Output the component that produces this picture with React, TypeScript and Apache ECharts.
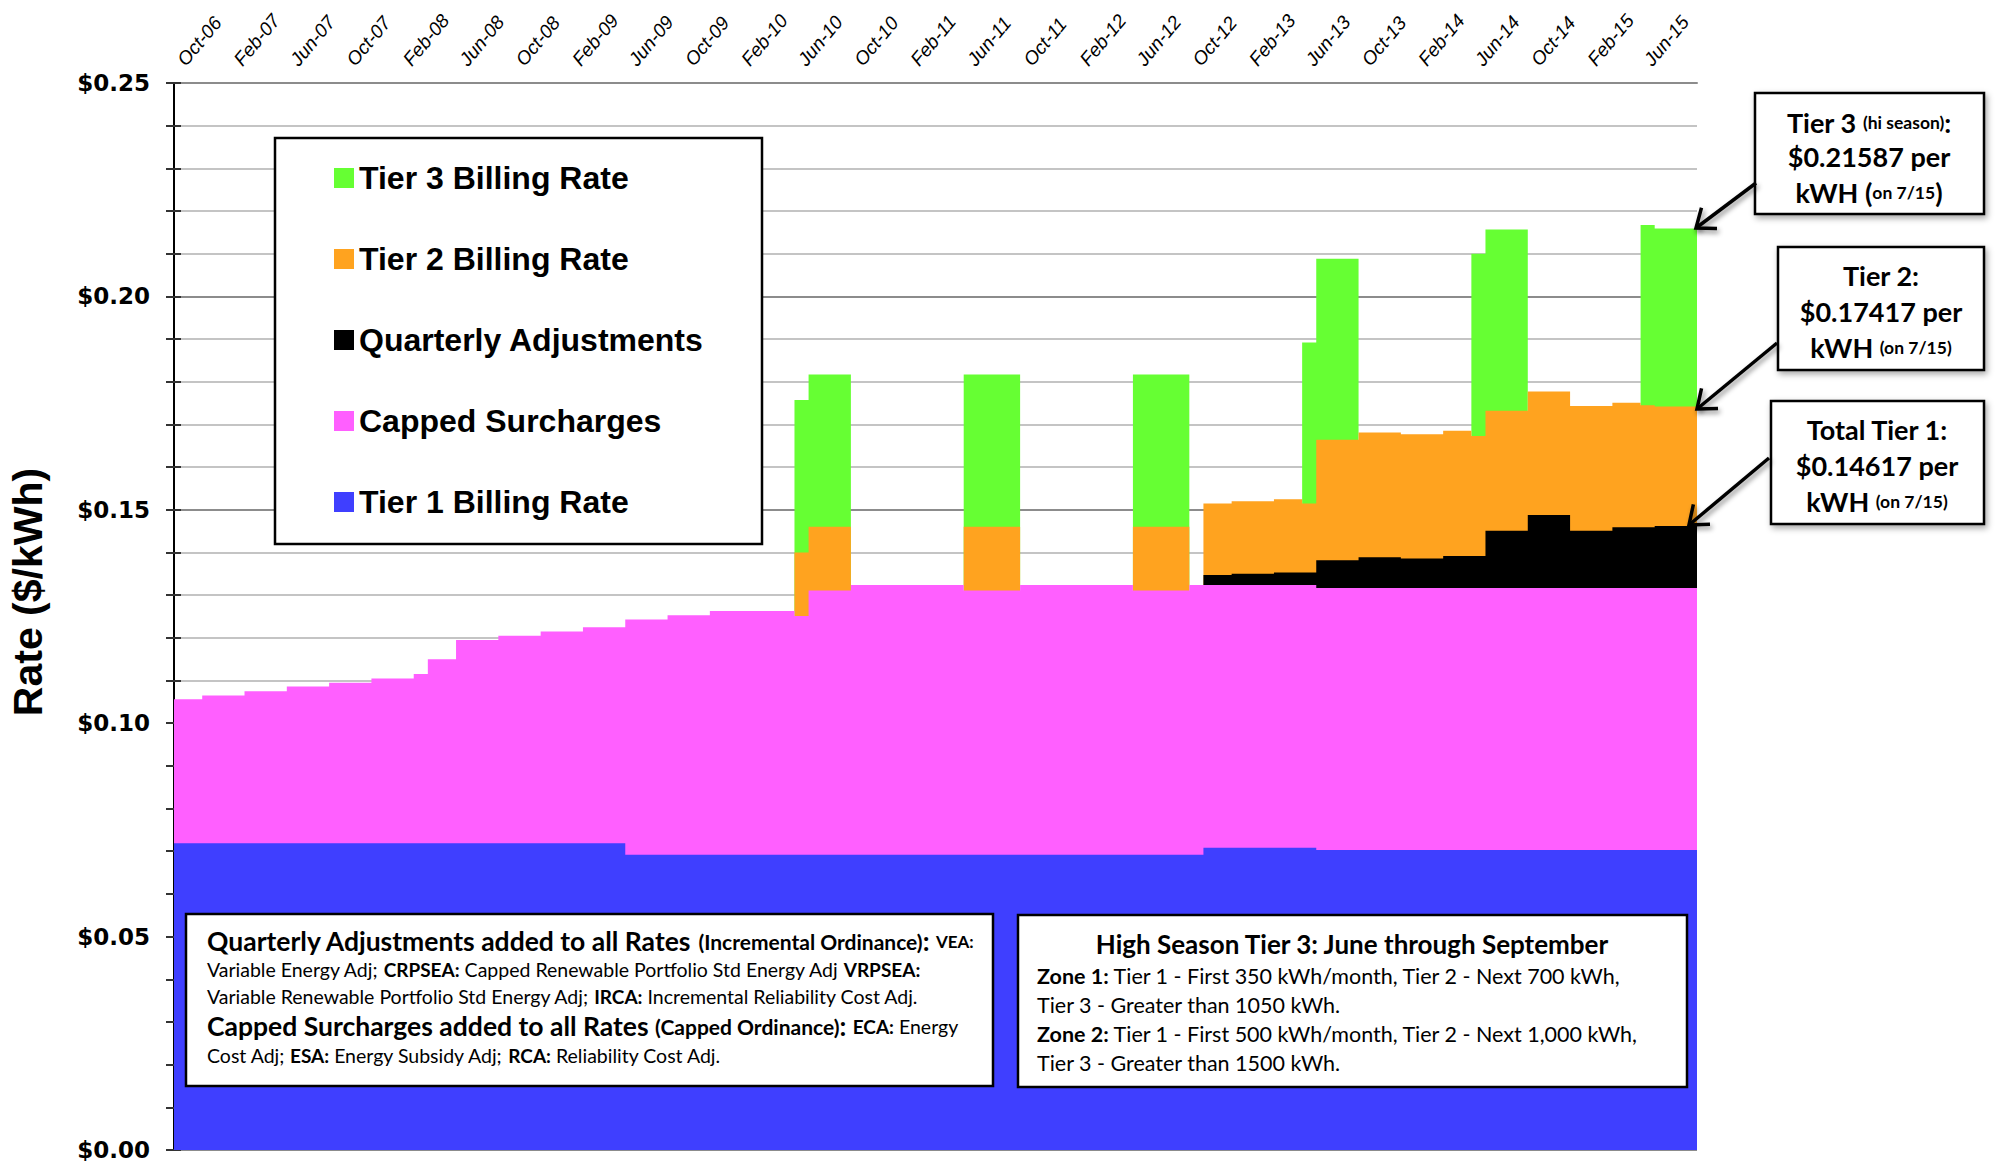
import React, { useEffect, useRef } from 'react';
import * as echarts from 'echarts';

const N = null;

const months: string[] = [
  'Oct-06', 'Nov-06', 'Dec-06',
  'Jan-07', 'Feb-07', 'Mar-07', 'Apr-07', 'May-07', 'Jun-07', 'Jul-07', 'Aug-07', 'Sep-07', 'Oct-07', 'Nov-07', 'Dec-07',
  'Jan-08', 'Feb-08', 'Mar-08', 'Apr-08', 'May-08', 'Jun-08', 'Jul-08', 'Aug-08', 'Sep-08', 'Oct-08', 'Nov-08', 'Dec-08',
  'Jan-09', 'Feb-09', 'Mar-09', 'Apr-09', 'May-09', 'Jun-09', 'Jul-09', 'Aug-09', 'Sep-09', 'Oct-09', 'Nov-09', 'Dec-09',
  'Jan-10', 'Feb-10', 'Mar-10', 'Apr-10', 'May-10', 'Jun-10', 'Jul-10', 'Aug-10', 'Sep-10', 'Oct-10', 'Nov-10', 'Dec-10',
  'Jan-11', 'Feb-11', 'Mar-11', 'Apr-11', 'May-11', 'Jun-11', 'Jul-11', 'Aug-11', 'Sep-11', 'Oct-11', 'Nov-11', 'Dec-11',
  'Jan-12', 'Feb-12', 'Mar-12', 'Apr-12', 'May-12', 'Jun-12', 'Jul-12', 'Aug-12', 'Sep-12', 'Oct-12', 'Nov-12', 'Dec-12',
  'Jan-13', 'Feb-13', 'Mar-13', 'Apr-13', 'May-13', 'Jun-13', 'Jul-13', 'Aug-13', 'Sep-13', 'Oct-13', 'Nov-13', 'Dec-13',
  'Jan-14', 'Feb-14', 'Mar-14', 'Apr-14', 'May-14', 'Jun-14', 'Jul-14', 'Aug-14', 'Sep-14', 'Oct-14', 'Nov-14', 'Dec-14',
  'Jan-15', 'Feb-15', 'Mar-15', 'Apr-15', 'May-15', 'Jun-15', 'Jul-15', 'Aug-15', 'Sep-15',
];

// Tier 1 base billing rate ($/kWh)
const tier1: number[] = [
  0.0719, 0.0719, 0.0719,
  0.0719, 0.0719, 0.0719, 0.0719, 0.0719, 0.0719, 0.0719, 0.0719, 0.0719, 0.0719, 0.0719, 0.0719,
  0.0719, 0.0719, 0.0719, 0.0719, 0.0719, 0.0719, 0.0719, 0.0719, 0.0719, 0.0719, 0.0719, 0.0719,
  0.0719, 0.0719, 0.0719, 0.0719, 0.0719, 0.0692, 0.0692, 0.0692, 0.0692, 0.0692, 0.0692, 0.0692,
  0.0692, 0.0692, 0.0692, 0.0692, 0.0692, 0.0692, 0.0692, 0.0692, 0.0692, 0.0692, 0.0692, 0.0692,
  0.0692, 0.0692, 0.0692, 0.0692, 0.0692, 0.0692, 0.0692, 0.0692, 0.0692, 0.0692, 0.0692, 0.0692,
  0.0692, 0.0692, 0.0692, 0.0692, 0.0692, 0.0692, 0.0692, 0.0692, 0.0692, 0.0692, 0.0708, 0.0708,
  0.0708, 0.0708, 0.0708, 0.0708, 0.0708, 0.0708, 0.0703, 0.0703, 0.0703, 0.0703, 0.0703, 0.0703,
  0.0703, 0.0703, 0.0703, 0.0703, 0.0703, 0.0703, 0.0703, 0.0703, 0.0703, 0.0703, 0.0703, 0.0703,
  0.0703, 0.0703, 0.0703, 0.0703, 0.0703, 0.0703, 0.0703, 0.0703, 0.0703,
];

// Capped surcharges (ECA, ESA, RCA)
const capped: number[] = [
  0.0337, 0.0337, 0.0346,
  0.0346, 0.0346, 0.0356, 0.0356, 0.0356, 0.0367, 0.0367, 0.0367, 0.0376, 0.0376, 0.0376, 0.0386,
  0.0386, 0.0386, 0.0396, 0.0431, 0.0431, 0.0476, 0.0476, 0.0476, 0.0486, 0.0486, 0.0486, 0.0496,
  0.0496, 0.0496, 0.0506, 0.0506, 0.0506, 0.0551, 0.0551, 0.0551, 0.0561, 0.0561, 0.0561, 0.0571,
  0.0571, 0.0571, 0.0571, 0.0571, 0.0571, 0.0559, 0.0619, 0.0619, 0.0619, 0.0632, 0.0632, 0.0632,
  0.0632, 0.0632, 0.0632, 0.0632, 0.0632, 0.0619, 0.0619, 0.0619, 0.0619, 0.0632, 0.0632, 0.0632,
  0.0632, 0.0632, 0.0632, 0.0632, 0.0632, 0.0619, 0.0619, 0.0619, 0.0619, 0.0632, 0.0616, 0.0616,
  0.0616, 0.0616, 0.0616, 0.0616, 0.0616, 0.0616, 0.0614, 0.0614, 0.0614, 0.0614, 0.0614, 0.0614,
  0.0614, 0.0614, 0.0614, 0.0614, 0.0614, 0.0614, 0.0614, 0.0614, 0.0614, 0.0614, 0.0614, 0.0614,
  0.0614, 0.0614, 0.0614, 0.0614, 0.0614, 0.0614, 0.0614, 0.0614, 0.0614,
];

// Quarterly adjustments (VEA, CRPSEA, VRPSEA, IRCA)
const quarterly: (number | null)[] = [
  N, N, N,
  N, N, N, N, N, N, N, N, N, N, N, N,
  N, N, N, N, N, N, N, N, N, N, N, N,
  N, N, N, N, N, N, N, N, N, N, N, N,
  N, N, N, N, N, N, N, N, N, N, N, N,
  N, N, N, N, N, N, N, N, N, N, N, N,
  N, N, N, N, N, N, N, N, N, N, 0.0023, 0.0023,
  0.0026, 0.0026, 0.0026, 0.0029, 0.0029, 0.0029, 0.0065, 0.0065, 0.0065, 0.0072, 0.0072, 0.0072,
  0.0069, 0.0069, 0.0069, 0.0075, 0.0075, 0.0075, 0.0134, 0.0134, 0.0134, 0.0171, 0.0171, 0.0171,
  0.0134, 0.0134, 0.0134, 0.0142, 0.0142, 0.0142, 0.0145, 0.0145, 0.0145,
];

// Tier 2 billing rate increment
const tier2: (number | null)[] = [
  N, N, N,
  N, N, N, N, N, N, N, N, N, N, N, N,
  N, N, N, N, N, N, N, N, N, N, N, N,
  N, N, N, N, N, N, N, N, N, N, N, N,
  N, N, N, N, N, 0.0149, 0.0149, 0.0149, 0.0149, N, N, N,
  N, N, N, N, N, 0.0149, 0.0149, 0.0149, 0.0149, N, N, N,
  N, N, N, N, N, 0.0149, 0.0149, 0.0149, 0.0149, N, 0.0168, 0.0168,
  0.0170, 0.0170, 0.0170, 0.0172, 0.0172, 0.0162, 0.0282, 0.0282, 0.0282, 0.0292, 0.0292, 0.0292,
  0.0291, 0.0291, 0.0291, 0.0293, 0.0293, 0.0281, 0.0281, 0.0281, 0.0281, 0.0289, 0.0289, 0.0289,
  0.0292, 0.0292, 0.0292, 0.0292, 0.0292, 0.0286, 0.0280, 0.0280, 0.0280,
];

// Tier 3 (high season) billing rate increment
const tier3: (number | null)[] = [
  N, N, N,
  N, N, N, N, N, N, N, N, N, N, N, N,
  N, N, N, N, N, N, N, N, N, N, N, N,
  N, N, N, N, N, N, N, N, N, N, N, N,
  N, N, N, N, N, 0.0357, 0.0357, 0.0357, 0.0357, N, N, N,
  N, N, N, N, N, 0.0357, 0.0357, 0.0357, 0.0357, N, N, N,
  N, N, N, N, N, 0.0357, 0.0357, 0.0357, 0.0357, N, N, N,
  N, N, N, N, N, 0.0377, 0.0424, 0.0424, 0.0424, N, N, N,
  N, N, N, N, N, 0.0427, 0.0425, 0.0425, 0.0425, N, N, N,
  N, N, N, N, N, 0.0422, 0.0417, 0.0417, 0.0417,
];

const seriesNames = ['Tier 1 Billing Rate', 'Capped Surcharges', 'Quarterly Adjustments', 'Tier 2 Billing Rate', 'Tier 3 Billing Rate'];
const seriesColors = ['#3f3fff', '#ff5fff', '#000000', '#ffa31f', '#66ff33'];
const seriesData = [tier1, capped, quarterly, tier2, tier3];

// Cumulative (stacked) tops of every layer, skipping missing layers
function stackedTops(): (number | null)[][] {
  const out: (number | null)[][] = [];
  const running: number[] = months.map(() => 0);
  seriesData.forEach((arr) => {
    const tops = arr.map((v, i) => {
      if (v == null) return null;
      running[i] += v as number;
      return running[i];
    });
    out.push(tops);
  });
  return out;
}

function layerSeries(name: string, color: string, tops: (number | null)[]) {
  return {
    name,
    type: 'custom',
    coordinateSystem: 'cartesian2d',
    xAxisIndex: 0,
    yAxisIndex: 0,
    data: [[0, 0]],
    encode: { x: 0, y: 1 },
    itemStyle: { color },
    silent: true,
    renderItem: (params: any, api: any) => {
      if (params.dataIndex !== 0) return null;
      const bw = api.size([1, 0])[0];
      const children: any[] = [];
      const n = tops.length;
      let i = 0;
      while (i < n) {
        if (tops[i] == null) {
          i++;
          continue;
        }
        const pts: number[][] = [];
        const b0 = api.coord([i, 0]);
        pts.push([b0[0] - bw / 2, b0[1]]);
        let j = i;
        while (j < n && tops[j] != null) {
          const c = api.coord([j, tops[j]]);
          pts.push([c[0] - bw / 2, c[1]]);
          pts.push([c[0] + bw / 2, c[1]]);
          j++;
        }
        const b1 = api.coord([j - 1, 0]);
        pts.push([b1[0] + bw / 2, b1[1]]);
        children.push({ type: 'polygon', shape: { points: pts }, style: { fill: color } });
        i = j;
      }
      return { type: 'group', children };
    },
  };
}

const FONT_T = 'Lato';

function arrow(tail: number[], tip: number[]) {
  const dx = tail[0] - tip[0];
  const dy = tail[1] - tip[1];
  const L = Math.hypot(dx, dy);
  const ux = dx / L;
  const uy = dy / L;
  const a = (38 * Math.PI) / 180;
  const len = 21;
  const w = (ang: number) => [
    tip[0] + len * (ux * Math.cos(ang) - uy * Math.sin(ang)),
    tip[1] + len * (ux * Math.sin(ang) + uy * Math.cos(ang)),
  ];
  const shadow = { shadowBlur: 5, shadowColor: 'rgba(0,0,0,0.45)', shadowOffsetX: 2, shadowOffsetY: 3 };
  return [
    { type: 'line', z: 12, shape: { x1: tail[0], y1: tail[1], x2: tip[0], y2: tip[1] }, style: { stroke: '#000', lineWidth: 3.5, ...shadow } },
    { type: 'polyline', z: 12, shape: { points: [w(a), tip, w(-a)] }, style: { stroke: '#000', lineWidth: 3.5, lineJoin: 'miter', ...shadow } },
  ];
}

function txt(x: number, y: number, text: string, rich: any, align = 'left') {
  return {
    type: 'text',
    z: 13,
    x,
    y,
    style: { text, rich, align, verticalAlign: 'middle', textAlign: align, textVerticalAlign: 'middle' },
  };
}

function box(x: number, y: number, w: number, h: number, shadow = false) {
  return {
    type: 'rect',
    z: 11,
    shape: { x, y, width: w, height: h },
    style: {
      fill: '#fff',
      stroke: '#000',
      lineWidth: 2.5,
      ...(shadow ? { shadowBlur: 6, shadowColor: 'rgba(0,0,0,0.35)', shadowOffsetX: 2, shadowOffsetY: 3 } : {}),
    },
  };
}

const richAnn = {
  b: { fontFamily: FONT_T, fontWeight: 'bold', fontSize: 27, fill: '#000' },
  s: { fontFamily: FONT_T, fontWeight: 'bold', fontSize: 17.5, fill: '#000' },
};

const richA = {
  h: { fontFamily: FONT_T, fontWeight: 'bold', fontSize: 26.5, fill: '#000' },
  m: { fontFamily: FONT_T, fontWeight: 'bold', fontSize: 21, fill: '#000' },
  sv: { fontFamily: FONT_T, fontWeight: 'bold', fontSize: 17, fill: '#000' },
  sb: { fontFamily: FONT_T, fontWeight: 'bold', fontSize: 19, fill: '#000' },
  r: { fontFamily: FONT_T, fontSize: 19.5, fill: '#000' },
};

const richB = {
  t: { fontFamily: FONT_T, fontWeight: 'bold', fontSize: 26, fill: '#000' },
  b: { fontFamily: FONT_T, fontWeight: 'bold', fontSize: 21.5, fill: '#000' },
  r: { fontFamily: FONT_T, fontSize: 21.5, fill: '#000' },
};

function buildGraphic() {
  const els: any[] = [];
  // y-axis title
  els.push({
    type: 'text',
    z: 13,
    x: 28,
    y: 592,
    rotation: Math.PI / 2,
    style: {
      text: 'Rate ($/kWh)',
      fontFamily: 'Liberation Sans',
      fontWeight: 'bold',
      fontSize: 41,
      fill: '#000',
      align: 'center',
      verticalAlign: 'middle',
      textAlign: 'center',
      textVerticalAlign: 'middle',
    },
  });
  // legend frame
  els.push({ type: 'rect', z: 3, shape: { x: 275, y: 138, width: 487, height: 406 }, style: { fill: '#fff', stroke: '#000', lineWidth: 2.5 } });

  // annotation boxes
  els.push(box(1755, 93, 229, 121, true));
  els.push(txt(1869, 122, '{b|Tier 3 }{s|(hi season)}{b|:}', richAnn, 'center'));
  els.push(txt(1869, 156, '{b|$0.21587 per}', richAnn, 'center'));
  els.push(txt(1869, 192, '{b|kWH (}{s|on 7/15}{b|)}', richAnn, 'center'));

  els.push(box(1778, 247, 206, 123, true));
  els.push(txt(1881, 275, '{b|Tier 2:}', richAnn, 'center'));
  els.push(txt(1881, 311, '{b|$0.17417 per}', richAnn, 'center'));
  els.push(txt(1881, 347, '{b|kWH }{s|(on 7/15)}', richAnn, 'center'));

  els.push(box(1771, 401, 213, 123, true));
  els.push(txt(1877, 429, '{b|Total Tier 1:}', richAnn, 'center'));
  els.push(txt(1877, 465, '{b|$0.14617 per}', richAnn, 'center'));
  els.push(txt(1877, 501, '{b|kWH }{s|(on 7/15)}', richAnn, 'center'));

  els.push(...arrow([1756, 183], [1696, 228]));
  els.push(...arrow([1777, 343], [1697, 409]));
  els.push(...arrow([1769, 458], [1689, 525]));

  // bottom left note
  els.push(box(186, 914, 807, 172));
  els.push(txt(207, 941, '{h|Quarterly Adjustments added to all Rates }{m|(Incremental Ordinance)}{h|: }{sv|VEA:}', richA));
  els.push(txt(207, 969, '{r|Variable Energy Adj; }{sb|CRPSEA:}{r| Capped Renewable Portfolio Std Energy Adj }{sb|VRPSEA:}', richA));
  els.push(txt(207, 996, '{r|Variable Renewable Portfolio Std Energy Adj; }{sb|IRCA:}{r| Incremental Reliability Cost Adj.}', richA));
  els.push(txt(207, 1026, '{h|Capped Surcharges added to all Rates }{m|(Capped Ordinance)}{h|: }{sb|ECA:}{r| Energy}', richA));
  els.push(txt(207, 1055, '{r|Cost Adj; }{sb|ESA:}{r| Energy Subsidy Adj; }{sb|RCA:}{r| Reliability Cost Adj.}', richA));

  // bottom right note
  els.push(box(1018, 915, 669, 172));
  els.push(txt(1352, 944, '{t|High Season Tier 3: June through September}', richB, 'center'));
  els.push(txt(1037, 976, '{b|Zone 1:}{r| Tier 1 - First 350 kWh/month, Tier 2 - Next 700 kWh,}', richB));
  els.push(txt(1037, 1005, '{r|Tier 3 - Greater than 1050 kWh.}', richB));
  els.push(txt(1037, 1034, '{b|Zone 2:}{r| Tier 1 - First 500 kWh/month, Tier 2 - Next 1,000 kWh,}', richB));
  els.push(txt(1037, 1063, '{r|Tier 3 - Greater than 1500 kWh.}', richB));
  return els;
}

function buildOption(): any {
  const tops = stackedTops();
  // draw the highest layer first so each lower layer covers the one above from the baseline
  const order = [4, 3, 2, 1, 0];
  return {
    animation: false,
    backgroundColor: '#fff',
    grid: { left: 174, top: 83, width: 1523, height: 1067, containLabel: false },
    xAxis: {
      type: 'category',
      data: months,
      position: 'top',
      boundaryGap: true,
      axisLine: { onZero: false, lineStyle: { color: '#8c8c8c', width: 2 } },
      axisTick: { show: false },
      splitLine: { show: false },
      axisLabel: {
        interval: 3,
        rotate: -50,
        margin: 20,
        fontFamily: 'Liberation Sans',
        fontStyle: 'italic',
        fontSize: 19,
        color: '#000',
      },
    },
    yAxis: [
      {
        type: 'value',
        min: 0,
        max: 0.25,
        interval: 0.01,
        position: 'left',
        axisLine: { show: true, lineStyle: { color: '#000', width: 2 } },
        axisTick: { show: true, length: 8, lineStyle: { color: '#333', width: 2 } },
        splitLine: {
          show: true,
          lineStyle: { color: ['#8c8c8c', '#c4c4c4', '#c4c4c4', '#c4c4c4', '#c4c4c4'], width: 2 },
        },
        axisLabel: {
          margin: 24,
          fontFamily: 'DejaVu Sans',
          fontWeight: 'bold',
          fontSize: 23,
          color: '#000',
          formatter: (v: number) => (Math.round(v * 100) % 5 === 0 ? '$' + v.toFixed(2) : ''),
        },
      },
      {
        type: 'value',
        min: 0,
        max: 0.25,
        interval: 0.01,
        position: 'left',
        axisLine: { show: false },
        axisTick: { show: true, inside: true, length: 7, lineStyle: { color: '#333', width: 2 } },
        splitLine: { show: false },
        axisLabel: { show: false },
      },
    ],
    legend: {
      orient: 'vertical',
      left: 329,
      top: 155,
      itemWidth: 20,
      itemHeight: 20,
      itemGap: 45,
      icon: 'rect',
      selectedMode: false,
      data: ['Tier 3 Billing Rate', 'Tier 2 Billing Rate', 'Quarterly Adjustments', 'Capped Surcharges', 'Tier 1 Billing Rate'],
      textStyle: { fontFamily: 'Liberation Sans', fontWeight: 'bold', fontSize: 32, lineHeight: 36, color: '#000' },
    },
    series: order.map((i) => layerSeries(seriesNames[i], seriesColors[i], tops[i])),
    graphic: buildGraphic(),
  };
}

export default function App() {
  const ref = useRef<HTMLDivElement>(null);
  useEffect(() => {
    if (!ref.current) return;
    const chart = echarts.init(ref.current, null, { renderer: 'svg' });
    chart.setOption(buildOption());
    return () => chart.dispose();
  }, []);
  return (
    <div
      ref={ref}
      style={{ position: 'fixed', left: 0, top: 0, width: 1998, height: 1167, background: '#fff' }}
    />
  );
}
